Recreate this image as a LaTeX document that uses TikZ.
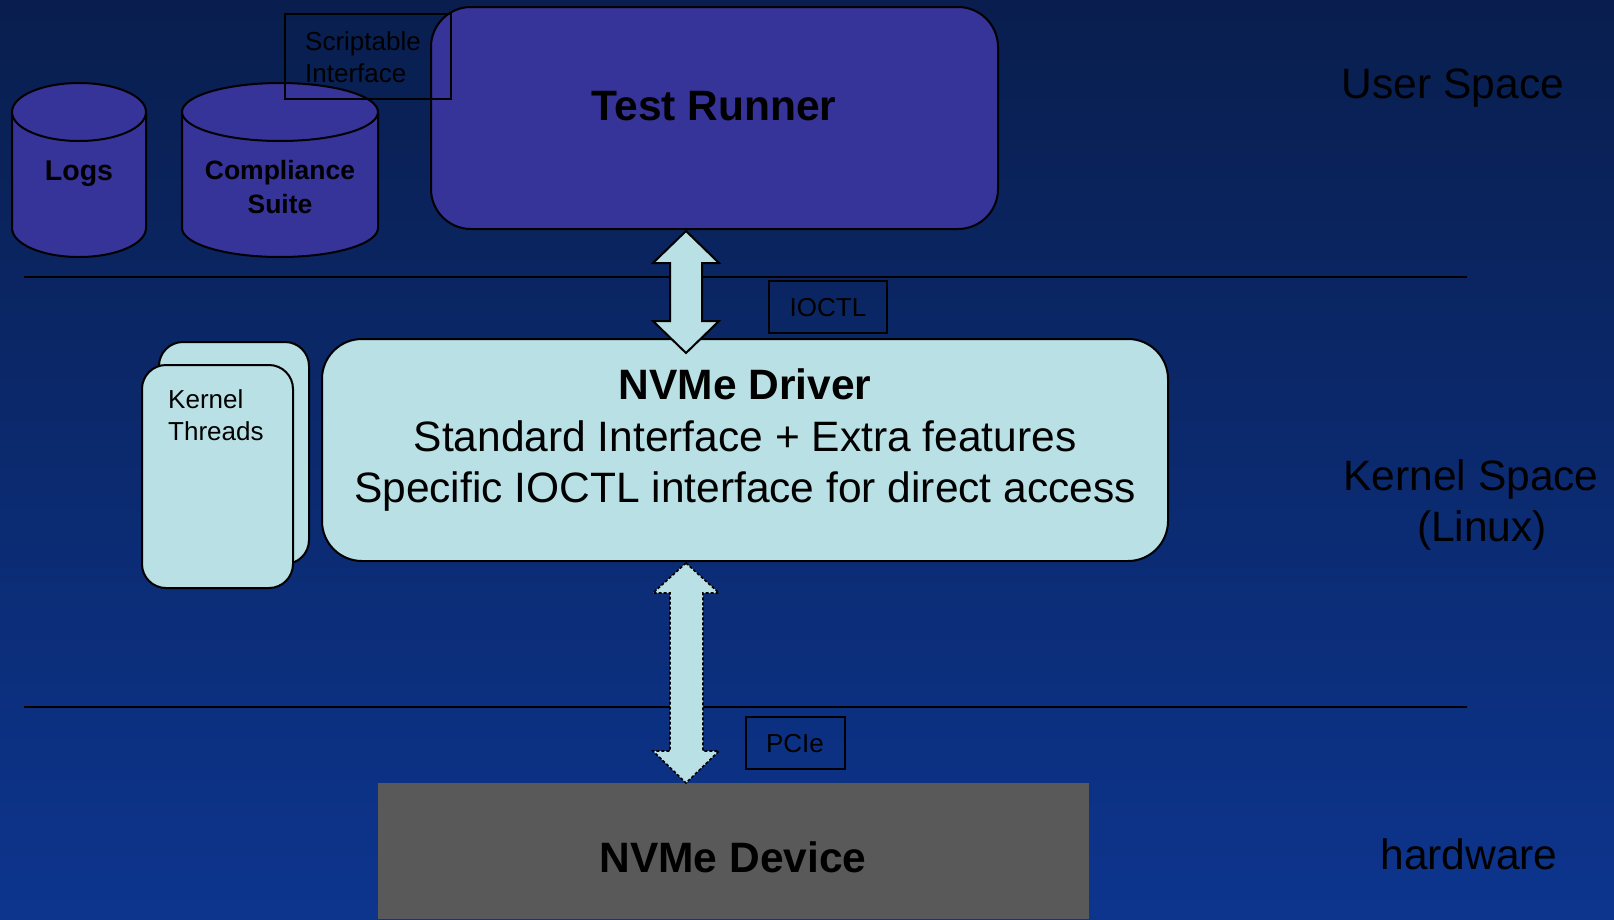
\documentclass[tikz,border=0pt]{standalone}
\usepackage{fontspec}
\setmainfont{Liberation Sans}
\definecolor{bgtop}{RGB}{9,30,78}
\definecolor{bgbot}{RGB}{13,53,142}
\definecolor{runner}{RGB}{54,51,153}
\definecolor{drv}{RGB}{185,224,228}
\definecolor{dev}{RGB}{89,89,89}
\tikzset{
  outl/.style={draw=black, line width=2pt},
  bigbold/.style={font=\fontsize{42.5}{51.5}\selectfont\bfseries, text=black},
  bigreg/.style={font=\fontsize{42.5}{51.5}\selectfont, text=black},
  small/.style={font=\fontsize{26}{31.5}\selectfont, text=black},
  lbl/.style={outl, font=\fontsize{26}{31}\selectfont, text=black, inner sep=0pt},
  cylbold/.style={font=\bfseries, text=black, align=center},
  arrowfill/.style={fill=drv, draw=black, line width=2pt, line join=miter},
}
\begin{document}
\begin{tikzpicture}[x=1pt,y=-1pt]
\useasboundingbox (0,0) rectangle (1614,919);
\shade[top color=bgtop, bottom color=bgbot] (0,0) rectangle (1614,919);

% layer lines
\draw[line width=2pt] (24,277) coordinate (l1a) -- (1467,277) coordinate (l1b);
\draw[line width=2pt] (24,707) coordinate (l2a) -- (1467,707) coordinate (l2b);

% cylinders
\draw[outl, fill=runner] (12,112) -- (12,228) arc[start angle=180, end angle=360, x radius=67, y radius=-29] -- (146,112);
\draw[outl, fill=runner] (79,112) ellipse[x radius=67, y radius=29];
\node[cylbold, font=\fontsize{28.5}{34}\selectfont\bfseries] (logs) at (79,174) {Logs};

\draw[outl, fill=runner] (182,112) -- (182,228) arc[start angle=180, end angle=360, x radius=98, y radius=-29] -- (378,112);
\draw[outl, fill=runner] (280,112) ellipse[x radius=98, y radius=29];
\node[cylbold, font=\fontsize{26.5}{34}\selectfont\bfseries] (suite) at (280,187) {Compliance\\Suite};

% test runner
\draw[outl, fill=runner, rounded corners=40pt] (431,7) rectangle (998,229);
\node[bigbold] (runnertxt) at (714,106) {Test Runner};

% scriptable interface
\draw[line width=2pt] (285,14) rectangle (451,99);
\node[small, align=left, anchor=west, inner sep=0pt] (script) at (305,57) {Scriptable\\Interface};

% kernel threads
\draw[outl, fill=drv, rounded corners=24pt] (159,342) rectangle (309,564);
\draw[outl, fill=drv, rounded corners=24pt] (142,365) rectangle (293,588);
\node[small, align=left, anchor=west, inner sep=0pt] (kthreads) at (168,415) {Kernel\\Threads};

% driver
\draw[outl, fill=drv, rounded corners=40pt] (322,339) rectangle (1168,561);
\node[bigreg, align=center] (drvtxt) at (745,440.5) {\textbf{NVMe Driver}\\Standard Interface + Extra features\\Specific IOCTL interface for direct access};

% device
\fill[dev] (378,783) rectangle (1089,919);
\node[bigbold] (devtxt) at (733,857) {NVMe Device};

% IOCTL arrow
\coordinate (ia) at (686,231);
\coordinate (ib) at (686,353);
\draw[arrowfill] (ia) -- ++(33,32) -- ++(-17,0) -- (702,321) -- ++(17,0) -- (ib) -- (653,321) -- ++(17,0) -- (670,263) -- ++(-17,0) -- cycle;
\node[lbl, minimum width=118pt, minimum height=52pt, text depth=0pt] (ioctl) at (828,307) {IOCTL};

% PCIe arrow
\coordinate (pa) at (686,563);
\coordinate (pb) at (686,783);
\draw[arrowfill, line width=1.6pt, dash pattern=on 3pt off 2pt] (pa) -- ++(33,30) -- ++(-16,0) -- (703,751) -- ++(16,0) -- (pb) -- (653,751) -- ++(17,0) -- (670,593) -- ++(-17,0) -- cycle;
\node[lbl, minimum width=99pt, minimum height=52pt, text depth=0pt] (pcie) at (795,743) {PCIe};

% side labels
\node[bigreg] (user) at (1453,88) {User Space};
\node[bigreg] (kern) at (1471,480) {Kernel Space};
\node[bigreg] (linux) at (1482,530) {(Linux)};
\node[bigreg] (hw) at (1469,854) {hardware};
\end{tikzpicture}
\end{document}
